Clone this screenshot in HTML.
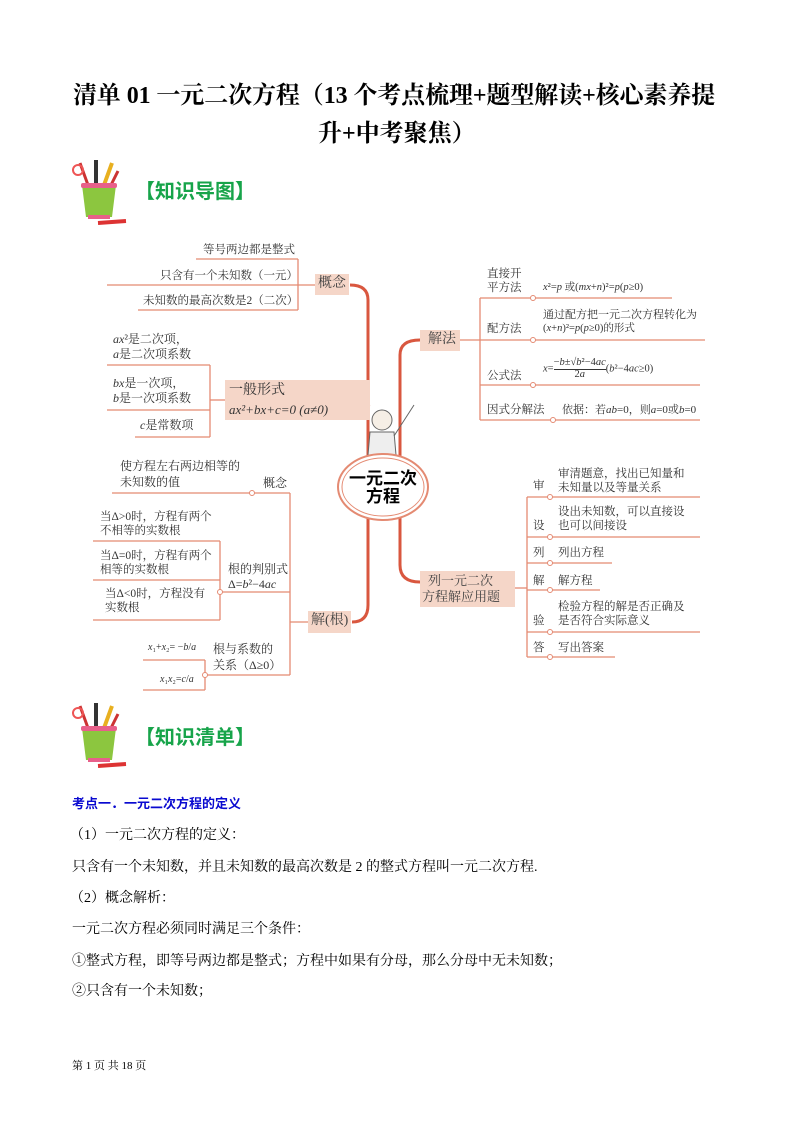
<!DOCTYPE html>
<html><head><meta charset="utf-8">
<style>
body{margin:0;background:#fff;}
#p{position:relative;width:793px;height:1122px;overflow:hidden;font-family:"Liberation Serif","Noto Serif CJK SC","Noto Sans CJK SC",serif;color:#000;}
.a{position:absolute;white-space:nowrap;line-height:1;}
.m{font-size:11.5px;color:#333;font-family:"Liberation Serif","Noto Serif CJK SC",serif;}
.i{font-style:italic;}
.b{position:absolute;background:#f5d6c8;}
.tx{font-size:14px;}
</style></head><body><div id="p">
<div class="a" style="left:73px;top:84px;font-size:24px;font-weight:bold;letter-spacing:-0.1px;">清单 01 一元二次方程（13 个考点梳理+题型解读+核心素养提</div>
<div class="a" style="left:318px;top:122px;font-size:24px;font-weight:bold;">升+中考聚焦）</div>

<svg class="a" style="left:68px;top:155px" width="70" height="75" viewBox="0 0 70 75">
<line x1="20" y1="30" x2="12" y2="8" stroke="#c33" stroke-width="3"/><line x1="28" y1="30" x2="28" y2="5" stroke="#333" stroke-width="4"/><line x1="36" y1="30" x2="44" y2="8" stroke="#e8b020" stroke-width="4"/><line x1="42" y1="32" x2="50" y2="16" stroke="#c33" stroke-width="3"/>
<circle cx="10" cy="15" r="5" fill="none" stroke="#e55" stroke-width="2"/>
<path d="M14 30 L48 30 L44 62 L18 62 Z" fill="#8cc63f"/><rect x="13" y="28" width="36" height="5" rx="2" fill="#e8608a"/><rect x="20" y="60" width="22" height="4" fill="#e8608a"/>
<line x1="30" y1="68" x2="58" y2="66" stroke="#d33" stroke-width="4"/></svg>
<div class="a" style="left:135px;top:182px;font-size:20px;font-weight:bold;color:#17a44a;font-family:'Liberation Sans','Noto Sans CJK SC',sans-serif;">【知识导图】</div>

<svg class="a" style="left:68px;top:698px" width="70" height="75" viewBox="0 0 70 75">
<line x1="20" y1="30" x2="12" y2="8" stroke="#c33" stroke-width="3"/><line x1="28" y1="30" x2="28" y2="5" stroke="#333" stroke-width="4"/><line x1="36" y1="30" x2="44" y2="8" stroke="#e8b020" stroke-width="4"/><line x1="42" y1="32" x2="50" y2="16" stroke="#c33" stroke-width="3"/>
<circle cx="10" cy="15" r="5" fill="none" stroke="#e55" stroke-width="2"/>
<path d="M14 30 L48 30 L44 62 L18 62 Z" fill="#8cc63f"/><rect x="13" y="28" width="36" height="5" rx="2" fill="#e8608a"/><rect x="20" y="60" width="22" height="4" fill="#e8608a"/>
<line x1="30" y1="68" x2="58" y2="66" stroke="#d33" stroke-width="4"/></svg>
<div class="a" style="left:135px;top:728px;font-size:20px;font-weight:bold;color:#17a44a;font-family:'Liberation Sans','Noto Sans CJK SC',sans-serif;">【知识清单】</div>

<svg class="a" style="left:0;top:0" width="793" height="720">
<g stroke="#e48a72" stroke-width="1.3" fill="none">
<line x1="196" y1="259" x2="298" y2="259"/><line x1="107" y1="285" x2="315" y2="285"/><line x1="138" y1="310" x2="298" y2="310"/><line x1="298" y1="259" x2="298" y2="310"/>
<line x1="107" y1="365" x2="210" y2="365"/><line x1="107" y1="410" x2="210" y2="410"/><line x1="135" y1="437" x2="210" y2="437"/><line x1="210" y1="365" x2="210" y2="437"/><line x1="210" y1="400" x2="225" y2="400"/>
<line x1="112" y1="493" x2="290" y2="493"/><line x1="290" y1="493" x2="290" y2="675"/>
<line x1="93" y1="541" x2="220" y2="541"/><line x1="93" y1="580" x2="220" y2="580"/><line x1="93" y1="620" x2="220" y2="620"/><line x1="220" y1="541" x2="220" y2="620"/><line x1="220" y1="592" x2="290" y2="592"/>
<line x1="290" y1="622" x2="308" y2="622"/>
<line x1="143" y1="660" x2="205" y2="660"/><line x1="143" y1="690" x2="205" y2="690"/><line x1="205" y1="660" x2="205" y2="690"/><line x1="205" y1="675" x2="290" y2="675"/>
<line x1="460" y1="340" x2="480" y2="340"/><line x1="480" y1="298" x2="480" y2="420"/>
<line x1="480" y1="298" x2="672" y2="298"/><line x1="480" y1="340" x2="705" y2="340"/><line x1="480" y1="385" x2="700" y2="385"/><line x1="480" y1="420" x2="700" y2="420"/>
<line x1="515" y1="588" x2="527" y2="588"/><line x1="527" y1="497" x2="527" y2="657"/>
<line x1="527" y1="497" x2="700" y2="497"/><line x1="527" y1="537" x2="700" y2="537"/><line x1="527" y1="563" x2="612" y2="563"/><line x1="527" y1="590" x2="600" y2="590"/><line x1="527" y1="632" x2="700" y2="632"/><line x1="527" y1="657" x2="615" y2="657"/>
</g>
<g fill="#fff" stroke="#e48a72" stroke-width="1"><circle cx="252" cy="493" r="2.5"/><circle cx="220" cy="592" r="2.5"/><circle cx="205" cy="675" r="2.5"/><circle cx="533" cy="298" r="2.5"/><circle cx="533" cy="340" r="2.5"/><circle cx="533" cy="385" r="2.5"/><circle cx="553" cy="420" r="2.5"/>
<circle cx="550" cy="497" r="2.5"/><circle cx="550" cy="537" r="2.5"/><circle cx="550" cy="563" r="2.5"/><circle cx="550" cy="590" r="2.5"/><circle cx="550" cy="632" r="2.5"/><circle cx="550" cy="657" r="2.5"/></g>
<g stroke="#d9573f" stroke-width="3" fill="none">
<path d="M350 285 Q368 285 368 300 L368 605 Q368 622 352 622"/>
<path d="M370 404 Q368 404 368 412"/>
<path d="M420 340 Q400 340 400 355 L400 565 Q400 582 420 582"/>
</g>
<!-- teacher -->
<circle cx="382" cy="420" r="10" fill="#f6efe6" stroke="#666" stroke-width="1"/>
<path d="M370 432 L394 432 L396 455 L368 455Z" fill="#eee" stroke="#666"/>
<line x1="394" y1="436" x2="414" y2="405" stroke="#666" stroke-width="1"/>
<ellipse cx="383" cy="487" rx="45" ry="33" fill="#fff" stroke="#e48a72" stroke-width="2"/>
<ellipse cx="383" cy="487" rx="41" ry="29" fill="none" stroke="#e48a72" stroke-width="1"/>
</svg>

<div class="b" style="left:315px;top:274px;width:34px;height:21px"></div>
<div class="b" style="left:225px;top:380px;width:145px;height:40px"></div>
<div class="b" style="left:308px;top:611px;width:43px;height:22px"></div>
<div class="b" style="left:420px;top:330px;width:40px;height:21px"></div>
<div class="b" style="left:420px;top:571px;width:95px;height:36px"></div>

<div class="a m" style="left:203px;top:245px">等号两边都是整式</div>
<div class="a m" style="left:160px;top:271px">只含有一个未知数（一元）</div>
<div class="a m" style="left:143px;top:296px">未知数的最高次数是2（二次）</div>
<div class="a" style="left:318px;top:277px;font-size:14px;color:#444">概念</div>
<div class="a m" style="left:113px;top:333px;font-size:12px"><span class="i">ax</span>²是二次项，</div>
<div class="a m" style="left:113px;top:348px;font-size:12px"><span class="i">a</span>是二次项系数</div>
<div class="a m" style="left:113px;top:377px;font-size:12px"><span class="i">bx</span>是一次项，</div>
<div class="a m" style="left:113px;top:392px;font-size:12px"><span class="i">b</span>是一次项系数</div>
<div class="a m" style="left:140px;top:419px;font-size:12px"><span class="i">c</span>是常数项</div>
<div class="a" style="left:229px;top:384px;font-size:14px;color:#333">一般形式</div>
<div class="a" style="left:229px;top:403px;font-size:13px;color:#333;font-style:italic">ax²+bx+c=0 (a≠0)</div>
<div class="a m" style="left:120px;top:460px;font-size:12px">使方程左右两边相等的</div>
<div class="a m" style="left:120px;top:476px;font-size:12px">未知数的值</div>
<div class="a m" style="left:263px;top:477px;font-size:12px">概念</div>
<div class="a m" style="left:100px;top:512px">当Δ&gt;0时，方程有两个</div>
<div class="a m" style="left:100px;top:526px">不相等的实数根</div>
<div class="a m" style="left:100px;top:551px">当Δ=0时，方程有两个</div>
<div class="a m" style="left:100px;top:565px">相等的实数根</div>
<div class="a m" style="left:105px;top:589px">当Δ&lt;0时，方程没有</div>
<div class="a m" style="left:105px;top:603px">实数根</div>
<div class="a m" style="left:228px;top:563px;font-size:12px">根的判别式</div>
<div class="a m" style="left:228px;top:578px;font-size:12px">Δ=<i>b</i>²−4<i>ac</i></div>
<div class="a" style="left:311px;top:614px;font-size:14px;color:#444">解(根)</div>
<div class="a m" style="left:148px;top:643px;font-size:10px"><i>x</i>₁+<i>x</i>₂= −<i>b</i>/<i>a</i></div>
<div class="a m" style="left:160px;top:675px;font-size:10px"><i>x</i>₁<i>x</i>₂=<i>c</i>/<i>a</i></div>
<div class="a m" style="left:213px;top:643px;font-size:12px">根与系数的</div>
<div class="a m" style="left:213px;top:659px;font-size:12px">关系（Δ≥0）</div>

<div class="a" style="left:338px;top:470px;width:90px;text-align:center;font-size:17px;line-height:18px;font-weight:bold;font-family:'Liberation Sans','Noto Sans CJK SC',sans-serif;">一元二次<br>方程</div>

<div class="a" style="left:428px;top:333px;font-size:14px;color:#444">解法</div>
<div class="a m" style="left:487px;top:269px">直接开</div>
<div class="a m" style="left:487px;top:283px">平方法</div>
<div class="a m" style="left:543px;top:283px;font-size:10.5px"><i>x</i>²=<i>p</i> 或(<i>mx</i>+<i>n</i>)²=<i>p</i>(<i>p</i>≥0)</div>
<div class="a m" style="left:487px;top:324px">配方法</div>
<div class="a m" style="left:543px;top:310px;font-size:11px">通过配方把一元二次方程转化为</div>
<div class="a m" style="left:543px;top:324px;font-size:10.5px">(<i>x</i>+<i>n</i>)²=<i>p</i>(<i>p</i>≥0)的形式</div>
<div class="a m" style="left:487px;top:371px">公式法</div>
<div class="a m" style="left:543px;top:358px;font-size:10.5px"><i>x</i>=<span style="display:inline-block;text-align:center;vertical-align:middle"><span style="display:block;border-bottom:1px solid #333">−<i>b</i>±√<i>b</i>²−4<i>ac</i></span><span style="display:block">2<i>a</i></span></span>(<i>b</i>²−4<i>ac</i>≥0)</div>
<div class="a m" style="left:487px;top:405px">因式分解法</div>
<div class="a m" style="left:562px;top:405px;font-size:11px">依据：若<i>ab</i>=0，则<i>a</i>=0或<i>b</i>=0</div>

<div class="a" style="left:428px;top:574px;font-size:13px;color:#444">列一元二次</div>
<div class="a" style="left:422px;top:590px;font-size:13px;color:#444">方程解应用题</div>
<div class="a m" style="left:533px;top:481px">审</div>
<div class="a m" style="left:558px;top:469px">审清题意，找出已知量和</div>
<div class="a m" style="left:558px;top:483px">未知量以及等量关系</div>
<div class="a m" style="left:533px;top:521px">设</div>
<div class="a m" style="left:558px;top:507px">设出未知数，可以直接设</div>
<div class="a m" style="left:558px;top:521px">也可以间接设</div>
<div class="a m" style="left:533px;top:548px">列</div><div class="a m" style="left:558px;top:548px">列出方程</div>
<div class="a m" style="left:533px;top:576px">解</div><div class="a m" style="left:558px;top:576px">解方程</div>
<div class="a m" style="left:533px;top:616px">验</div>
<div class="a m" style="left:558px;top:602px">检验方程的解是否正确及</div>
<div class="a m" style="left:558px;top:616px">是否符合实际意义</div>
<div class="a m" style="left:533px;top:643px">答</div><div class="a m" style="left:558px;top:643px">写出答案</div>

<div class="a" style="left:72px;top:797px;font-size:13px;font-weight:bold;color:#0a0ad0;font-family:'Liberation Sans','Noto Sans CJK SC',sans-serif;">考点一．一元二次方程的定义</div>
<div class="a tx" style="left:70px;top:829px">（1）一元二次方程的定义：</div>
<div class="a tx" style="left:72px;top:861px">只含有一个未知数，并且未知数的最高次数是 2 的整式方程叫一元二次方程.</div>
<div class="a tx" style="left:70px;top:892px">（2）概念解析：</div>
<div class="a tx" style="left:72px;top:923px">一元二次方程必须同时满足三个条件：</div>
<div class="a tx" style="left:72px;top:955px">①整式方程，即等号两边都是整式；方程中如果有分母，那么分母中无未知数；</div>
<div class="a tx" style="left:72px;top:985px">②只含有一个未知数；</div>
<div class="a" style="left:72px;top:1061px;font-size:11px">第 1 页 共 18 页</div>
</div></body></html>
